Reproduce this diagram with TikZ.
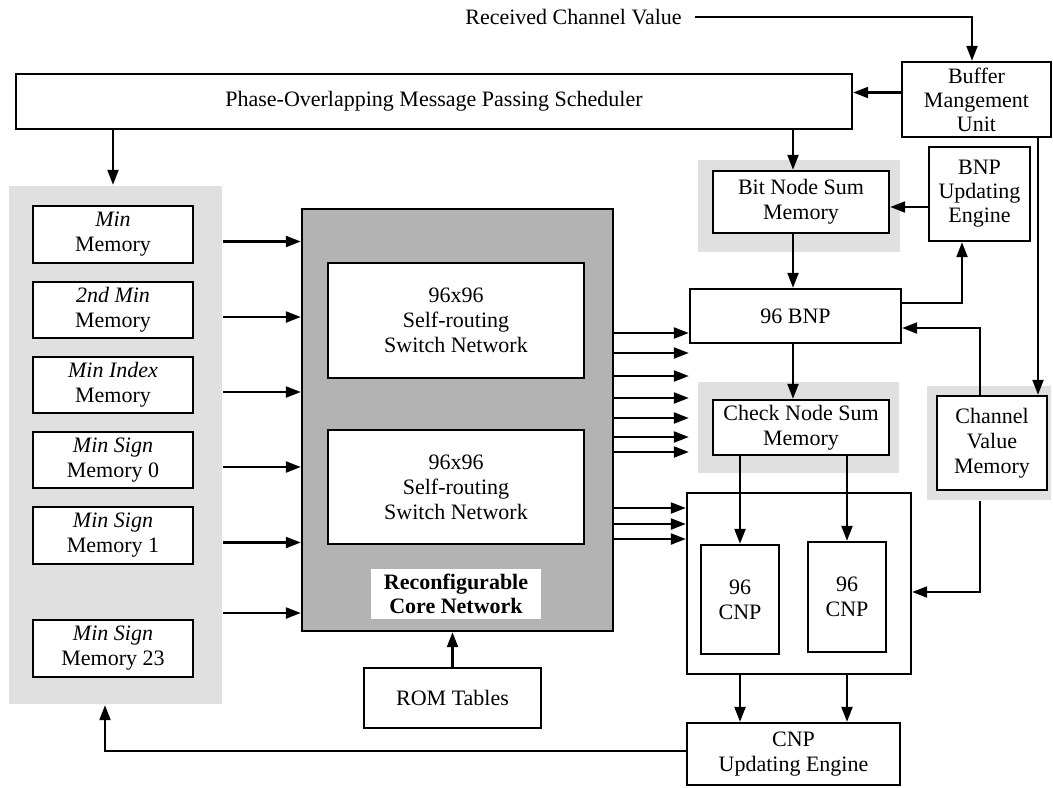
\documentclass[tikz,border=0pt]{standalone}
\usepackage{fontspec}
\setmainfont{Liberation Serif}
\usetikzlibrary{arrows.meta}
\definecolor{panelgray}{HTML}{E0E0E0}
\definecolor{coregray}{HTML}{B3B3B3}
% \blk[options]{name}{x1}{y1}{x2}{y2}{text}: a block spanning two corners
\newcommand\blk[7][]{%
  \node[box,#1,minimum width={(#5-#3)*0.5pt},minimum height={(#6-#4)*0.5pt}]
    (#2) at ({(#3+#5)/2},{(#4+#6)/2}) {#7};}
\begin{document}
\begin{tikzpicture}[x=0.5pt,y=-0.5pt,
  font=\fontsize{11}{12.5}\selectfont,
  box/.style={draw, line width=1.2pt, fill=white, inner sep=0pt, align=center},
  panel/.style={fill=panelgray, draw=none},
  arr/.style={line width=1.1pt, -{Triangle[length=7.5pt,width=5.5pt]}},
  tight/.style={font=\fontsize{11}{12}\selectfont}]
\useasboundingbox (0,0) rectangle (1053,787);

% helper columns for connector positions
\coordinate (xin) at (972,0);
\coordinate (xbmu) at (1038,0);
\coordinate (xmain) at (793,0);
\coordinate (xeng) at (962,0);
\coordinate (xcvm) at (980,0);
\coordinate (xsch) at (113,0);
\coordinate (xfb) at (105,0);

% scheduler and input buffer
\blk{sched}{16}{74}{852}{129}{Phase-Overlapping Message Passing Scheduler}
\blk[tight]{bmu}{902}{62}{1051}{137}{Buffer\\Mangement\\Unit}
\node[anchor=east, inner sep=0pt] (rcv) at (682,17) {Received Channel Value};

% left memory bank
\blk[panel]{leftbg}{9}{186}{222}{704}{}
\blk{m1}{33}{206}{193}{263}{\textit{Min}\\Memory}
\blk{m2}{33}{282}{193}{338}{\textit{2nd Min}\\Memory}
\blk{m3}{33}{357}{193}{413}{\textit{Min Index}\\Memory}
\blk{m4}{33}{432}{193}{488}{\textit{Min Sign}\\Memory 0}
\blk{m5}{33}{507}{193}{564}{\textit{Min Sign}\\Memory 1}
\blk{m6}{33}{620}{193}{677}{\textit{Min Sign}\\Memory 23}

% reconfigurable core network
\blk[fill=coregray]{core}{302}{209}{613}{631}{}
\blk{sw1}{328}{263}{584}{378}{96x96\\Self-routing\\Switch Network}
\blk{sw2}{328}{430}{584}{544}{96x96\\Self-routing\\Switch Network}
\blk[draw=none, font=\bfseries\fontsize{11}{12}\selectfont]{corelbl}{371}{569}{541}{619}{Reconfigurable\\Core Network}
\blk{rom}{364}{668}{541}{728}{ROM Tables}

% bit node side
\blk[panel]{bnsbg}{698}{160}{900}{252}{}
\blk{bns}{713}{171}{889}{233}{Bit Node Sum\\Memory}
\blk[tight]{bnpe}{929}{147}{1030}{241}{BNP\\Updating\\Engine}
\blk{bnp}{690}{289}{901}{343}{96 BNP}

% check node side
\blk[panel]{cnsbg}{698}{382}{899}{473}{}
\blk{cns}{713}{400}{889}{455}{Check Node Sum\\Memory}
\blk[panel]{cvmbg}{927}{386}{1051}{500}{}
\blk{cvm}{937}{396}{1047}{490}{Channel\\Value\\Memory}
\blk{cnpo}{687}{493}{911}{674}{}
\blk{cnp1}{701}{545}{779}{654}{96\\CNP}
\blk{cnp2}{808}{542}{886}{652}{96\\CNP}
\blk{cnpe}{687}{723}{900}{785}{CNP\\Updating Engine}

% input and buffer connections
\draw[arr] ([xshift=6.5pt]rcv.east) -| (xin |- bmu.north);
\draw[arr] ([yshift=3.5pt]bmu.west) -- ([yshift=3.5pt]bmu.west -| sched.east);
\draw[arr] (xsch |- sched.south) -- (xsch |- leftbg.north);
\draw[arr] (xmain |- sched.south) -- (xmain |- bns.north);
\draw[arr] (xbmu |- bmu.south) -- (xbmu |- cvm.north);

% memory bank into the core network
\foreach \m in {m1,m2,m3,m4,m5}
  \draw[arr] ([yshift=-3.5pt]\m.east -| leftbg.east) -- ([yshift=-3.5pt]\m.east -| core.west);
\coordinate (r613) at (0,613);
\draw[arr] (leftbg.east |- r613) -- (core.west |- r613);
\draw[arr] (rom.north) -- (rom.north |- core.south);

% core network outputs
\foreach \yy in {333,353,376,398,418,437,452}{
  \coordinate (ro) at (0,\yy);
  \draw[arr] (core.east |- ro) -- (bnp.west |- ro);
}
\foreach \yy in {508,524,539}{
  \coordinate (ro) at (0,\yy);
  \draw[arr] (core.east |- ro) -- (cnpo.west |- ro);
}

% bit node loop
\coordinate (r207) at (0,207);
\draw[arr] (bnpe.west |- r207) -- (bns.east |- r207);
\draw[arr] (xmain |- bns.south) -- (xmain |- bnp.north);
\coordinate (r303) at (0,303);
\draw[arr] (bnp.east |- r303) -| (xeng |- bnpe.south);
\coordinate (r328) at (0,328);
\draw[arr] (xcvm |- cvm.north) |- (bnp.east |- r328);
\draw[arr] (xmain |- bnp.south) -- (xmain |- cns.north);

% check node processing
\draw[arr] (cnp1.north |- cns.south) -- (cnp1.north);
\draw[arr] (cnp2.north |- cns.south) -- (cnp2.north);
\coordinate (r592) at (0,592);
\draw[arr] (xcvm |- cvmbg.south) |- (cnpo.east |- r592);
\draw[arr] (cnp1.south |- cnpo.south) -- (cnp1.south |- cnpe.north);
\draw[arr] (cnp2.south |- cnpo.south) -- (cnp2.south |- cnpe.north);

% feedback to the memory bank
\coordinate (r751) at (0,751);
\draw[arr] (cnpe.west |- r751) -| (xfb |- leftbg.south);
\end{tikzpicture}
\end{document}
